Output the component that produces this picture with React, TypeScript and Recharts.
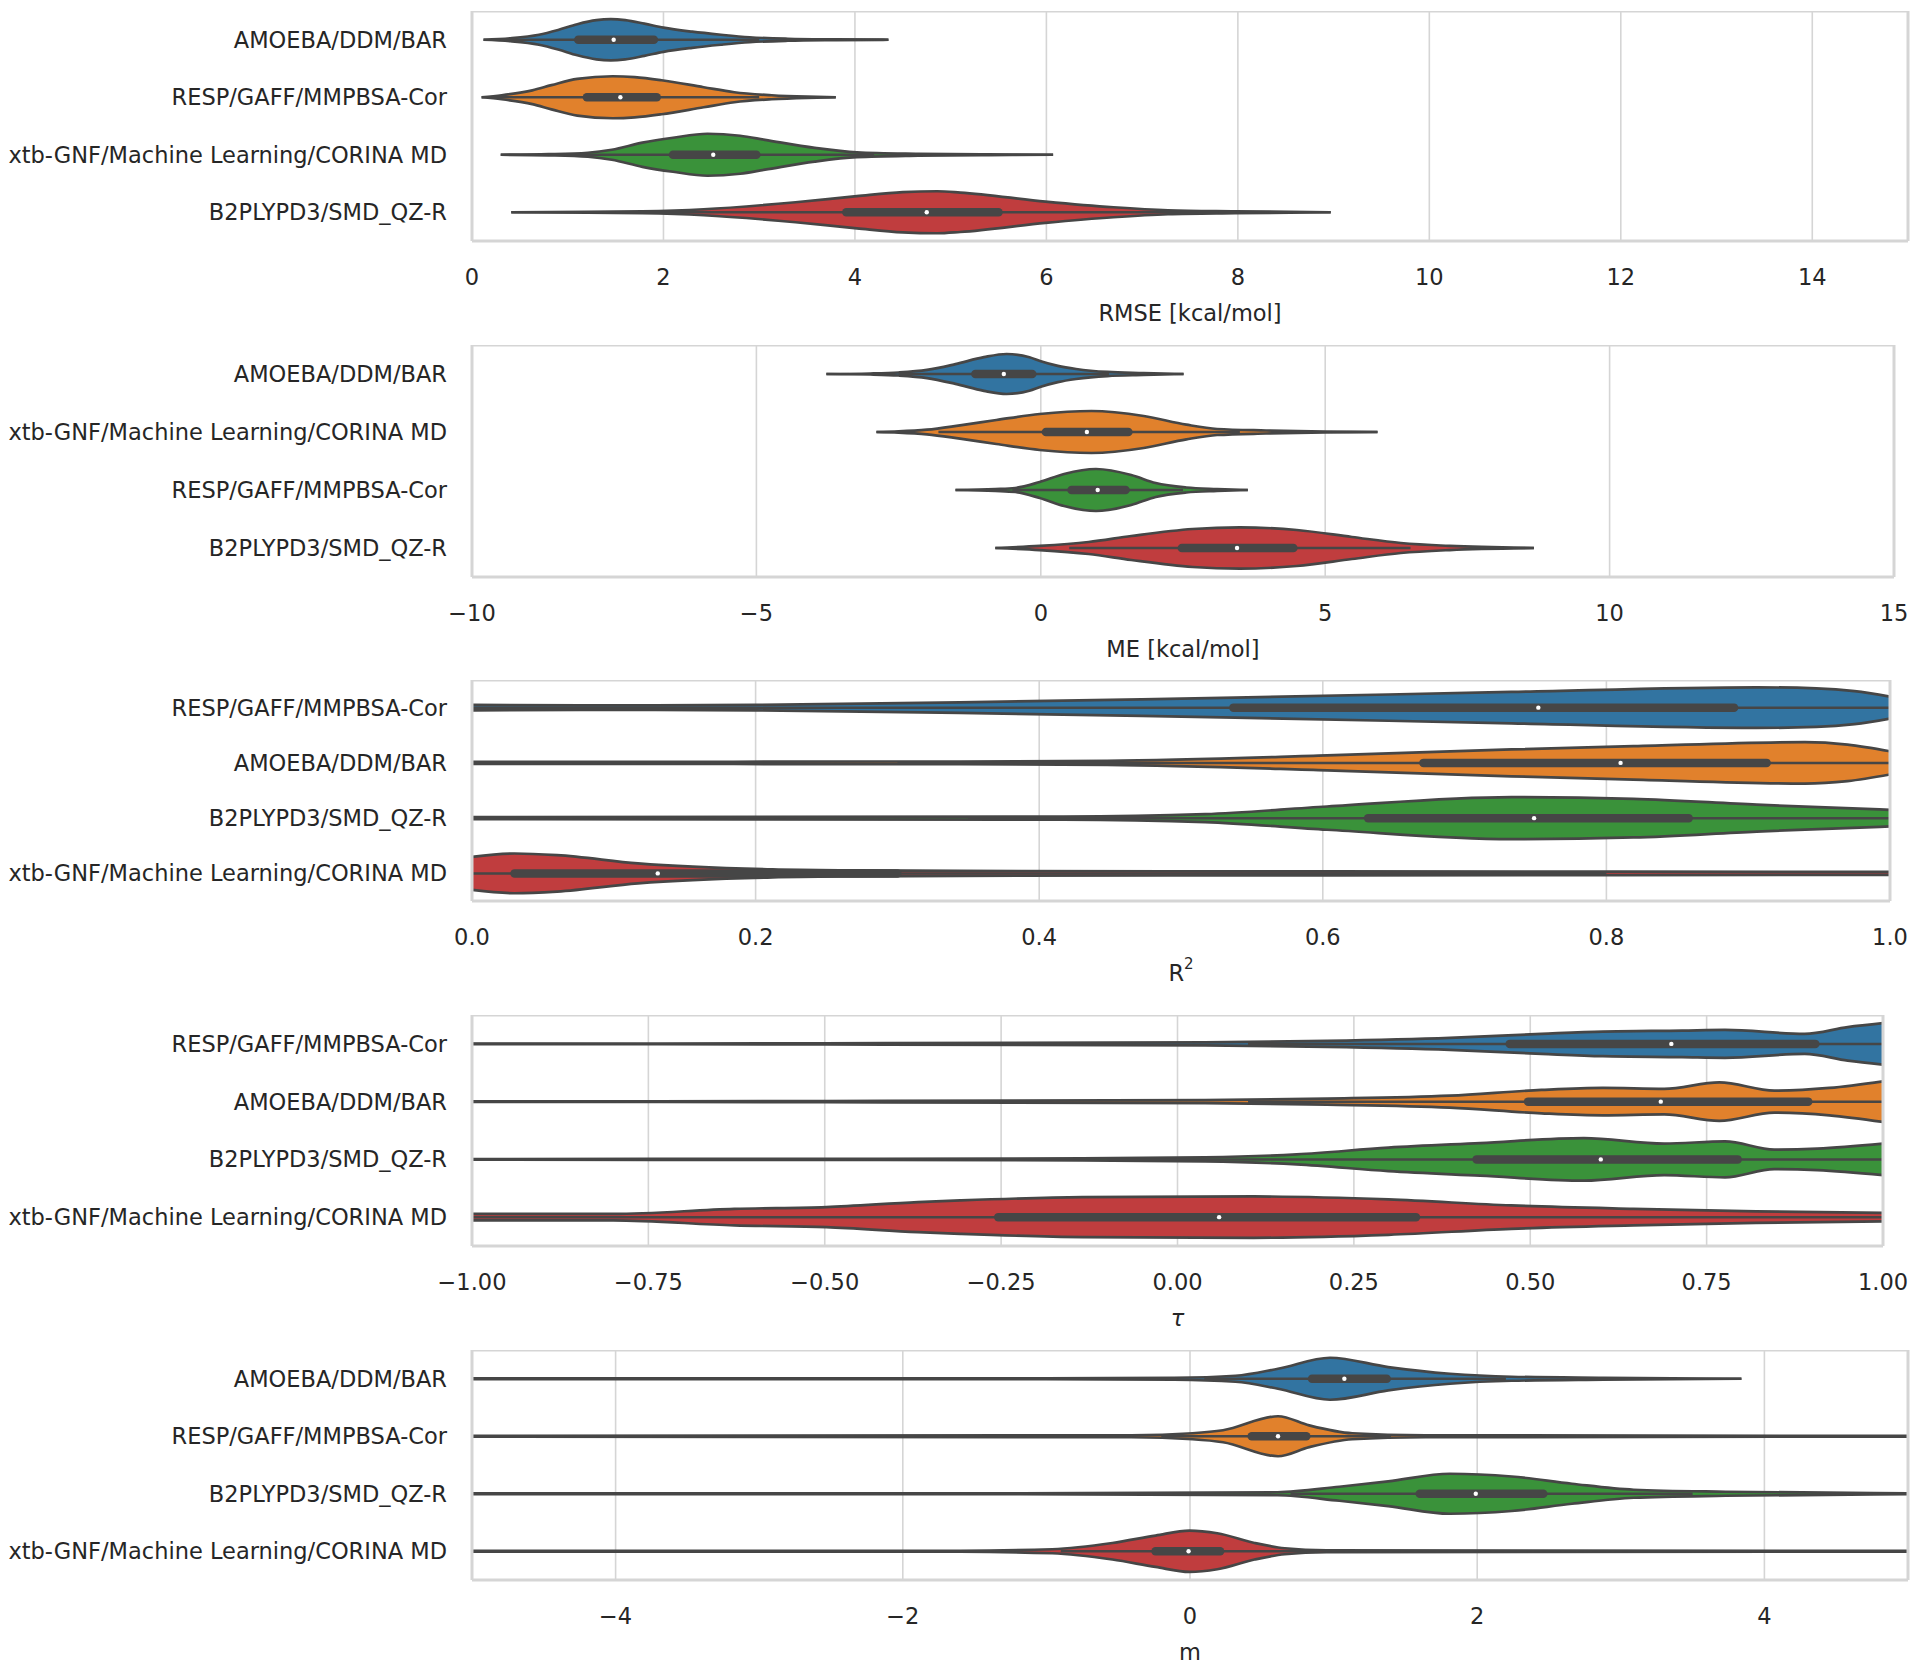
import React from 'react';
import {
  ComposedChart,
  Area,
  XAxis,
  YAxis,
  CartesianGrid,
  ReferenceLine,
  ReferenceDot,
} from 'recharts';

const AMOEBA = 'AMOEBA/DDM/BAR';
const RESP = 'RESP/GAFF/MMPBSA-Cor';
const XTB = 'xtb-GNF/Machine Learning/CORINA MD';
const B2P = 'B2PLYPD3/SMD_QZ-R';

// seaborn default palette, desaturated the way violinplot does it
const COLORS = ['#3274a1', '#e1812c', '#3a923a', '#c03d3e'];
const EDGE = '#464646';
const GRID = '#d5d5d5';
const TEXT = '#262626';
const FONT = '"DejaVu Sans", sans-serif';

// each violin: [value, half width in category units]
// each box: [whisker low, q1, median, q3, whisker high]

// ---- RMSE ----
const rmseOrder = [AMOEBA, RESP, XTB, B2P];
const rmseTicks = [0, 2, 4, 6, 8, 10, 12, 14];
const rmseAmoeba = [[0.12, 0], [0.4, 0.026], [0.7, 0.087], [0.9, 0.17], [1.1, 0.27], [1.3, 0.34], [1.45, 0.357], [1.6, 0.34], [1.8, 0.28], [2.0, 0.21], [2.3, 0.14], [2.6, 0.087], [2.9, 0.043], [3.3, 0.017], [3.8, 0.006], [4.35, 0]];
const rmseResp = [[0.1, 0], [0.31, 0.035], [0.63, 0.12], [0.83, 0.21], [1.1, 0.32], [1.47, 0.365], [1.7, 0.35], [1.98, 0.296], [2.42, 0.174], [2.74, 0.087], [3.13, 0.035], [3.5, 0.01], [3.8, 0]];
const rmseXtb = [[0.3, 0], [0.8, 0.01], [1.21, 0.035], [1.46, 0.087], [1.78, 0.21], [2.1, 0.296], [2.46, 0.365], [2.8, 0.33], [3.06, 0.26], [3.58, 0.12], [4.02, 0.043], [4.66, 0.017], [5.4, 0.005], [6.07, 0]];
const rmseB2p = [[0.41, 0], [1.2, 0.008], [1.78, 0.017], [2.42, 0.052], [3.38, 0.174], [4.02, 0.28], [4.5, 0.35], [4.86, 0.365], [5.1, 0.343], [5.99, 0.186], [6.7, 0.087], [7.27, 0.035], [7.97, 0.017], [8.97, 0]];
const rmseBoxes = [[0.3, 1.11, 1.48, 1.9, 3.0], [0.2, 1.2, 1.55, 1.93, 3.0], [0.9, 2.1, 2.52, 2.97, 4.2], [1.5, 3.91, 4.75, 5.5, 7.8]];

// ---- ME ----
const meOrder = [AMOEBA, XTB, RESP, B2P];
const meTicks = [-10, -5, 0, 5, 10, 15];
const meAmoeba = [[-3.77, 0], [-3.0, 0.009], [-2.5, 0.026], [-2.0, 0.07], [-1.5, 0.17], [-1.0, 0.29], [-0.6, 0.345], [-0.2, 0.29], [0.0, 0.22], [0.3, 0.14], [0.62, 0.086], [1.17, 0.035], [1.81, 0.017], [2.51, 0]];
const meXtb = [[-2.89, 0], [-2.5, 0.01], [-2.0, 0.04], [-1.42, 0.115], [-0.78, 0.207], [-0.02, 0.31], [0.89, 0.362], [1.81, 0.276], [2.56, 0.126], [3.1, 0.052], [3.96, 0.026], [5.0, 0.008], [5.92, 0]];
const meResp = [[-1.5, 0], [-0.8, 0.017], [-0.45, 0.035], [-0.02, 0.138], [0.41, 0.276], [0.97, 0.362], [1.59, 0.259], [2.02, 0.12], [2.56, 0.043], [3.1, 0.017], [3.64, 0]];
const meB2p = [[-0.8, 0], [-0.02, 0.035], [0.84, 0.103], [1.59, 0.207], [2.67, 0.328], [3.5, 0.357], [4.5, 0.31], [5.47, 0.19], [6.33, 0.086], [7.19, 0.035], [8.67, 0]];
const meBoxes = [[-2.5, -1.15, -0.65, -0.15, 1.2], [-1.8, 0.09, 0.81, 1.54, 3.5], [-0.5, 0.54, 1.0, 1.49, 2.5], [0.5, 2.48, 3.45, 4.44, 6.5]];

// ---- R^2 ----
const r2Order = [RESP, AMOEBA, B2P, XTB];
const r2Ticks = [0, 0.2, 0.4, 0.6, 0.8, 1.0];
const r2Resp = [[0, 0.05], [0.1, 0.04], [0.2, 0.05], [0.344, 0.096], [0.45, 0.14], [0.538, 0.18], [0.733, 0.284], [0.906, 0.367], [0.948, 0.35], [0.975, 0.3], [1.0, 0.2]];
const r2Amoeba = [[0, 0.018], [0.344, 0.025], [0.448, 0.036], [0.603, 0.134], [0.733, 0.243], [0.819, 0.302], [0.94, 0.375], [0.97, 0.33], [1.0, 0.21]];
const r2B2p = [[0, 0.018], [0.417, 0.027], [0.517, 0.072], [0.603, 0.21], [0.733, 0.38], [0.819, 0.35], [0.906, 0.243], [1.0, 0.15]];
const r2Xtb = [[0, 0.3], [0.03, 0.36], [0.06, 0.33], [0.117, 0.18], [0.212, 0.072], [0.272, 0.054], [0.344, 0.045], [0.603, 0.036], [1.0, 0.027]];
const r2Boxes = [[0.0, 0.537, 0.752, 0.89, 1.0], [0.3, 0.671, 0.81, 0.913, 1.0], [0.35, 0.632, 0.749, 0.858, 1.0], [0.0, 0.03, 0.131, 0.3, 0.8]];

// ---- tau ----
const tauOrder = [RESP, AMOEBA, B2P, XTB];
const tauTicks = [-1, -0.75, -0.5, -0.25, 0, 0.25, 0.5, 0.75, 1];
const tauResp = [[-1, 0.005], [-0.5, 0.01], [0.039, 0.026], [0.212, 0.052], [0.386, 0.104], [0.516, 0.173], [0.603, 0.213], [0.715, 0.23], [0.776, 0.242], [0.889, 0.173], [0.95, 0.29], [1.0, 0.358]];
const tauAmoeba = [[-1, 0.005], [-0.5, 0.01], [0.039, 0.026], [0.212, 0.052], [0.386, 0.104], [0.516, 0.203], [0.603, 0.237], [0.69, 0.22], [0.768, 0.334], [0.846, 0.19], [0.924, 0.237], [1.0, 0.352]];
const tauB2p = [[-1, 0.005], [-0.5, 0.01], [-0.135, 0.017], [0.039, 0.035], [0.169, 0.087], [0.299, 0.203], [0.429, 0.282], [0.576, 0.369], [0.69, 0.272], [0.776, 0.312], [0.846, 0.168], [0.907, 0.185], [1.0, 0.272]];
const tauXtb = [[-1, 0.055], [-0.8, 0.055], [-0.628, 0.144], [-0.498, 0.173], [-0.368, 0.26], [-0.308, 0.289], [-0.135, 0.346], [0.108, 0.358], [0.299, 0.306], [0.473, 0.203], [0.646, 0.144], [0.82, 0.099], [1.0, 0.075]];
const tauBoxes = [[0.1, 0.471, 0.7, 0.904, 1.0], [0.1, 0.497, 0.685, 0.894, 1.0], [-0.1, 0.424, 0.6, 0.794, 1.0], [-1.0, -0.254, 0.059, 0.338, 1.0]];

// ---- m ----
const mOrder = [AMOEBA, RESP, B2P, XTB];
const mTicks = [-4, -2, 0, 2, 4];
const mAmoeba = [[-5, 0.005], [-1, 0.009], [-0.11, 0.017], [0.317, 0.052], [0.613, 0.174], [0.975, 0.365], [1.38, 0.203], [1.81, 0.087], [2.24, 0.035], [2.88, 0.017], [3.84, 0]];
const mResp = [[-5, 0.005], [-0.41, 0.017], [0.018, 0.052], [0.23, 0.104], [0.613, 0.348], [0.83, 0.19], [1.13, 0.052], [1.64, 0.017], [5, 0.005]];
const mB2p = [[-5, 0.005], [-1.18, 0.009], [0.61, 0.026], [1.04, 0.122], [1.38, 0.214], [1.81, 0.348], [2.24, 0.3], [2.66, 0.174], [3.09, 0.07], [3.73, 0.035], [5, 0.009]];
const mXtb = [[-5, 0.005], [-1.6, 0.009], [-0.96, 0.035], [-0.54, 0.144], [-0.24, 0.273], [-0.003, 0.36], [0.19, 0.313], [0.45, 0.144], [0.66, 0.052], [0.95, 0.017], [5, 0.005]];
const mBoxes = [[0.1, 0.85, 1.075, 1.37, 2.2], [-0.2, 0.43, 0.613, 0.81, 1.4], [0.7, 1.6, 1.99, 2.46, 3.5], [-0.9, -0.24, -0.01, 0.21, 0.9]];

const minus = (s: string) => s.replace('-', '\u2212');

const PANELS = [
  { top: 11, plotHeight: 230, right: 1908, domain: [0, 15], ticks: rmseTicks, fmt: (v: number) => String(v), order: rmseOrder, violins: [rmseAmoeba, rmseResp, rmseXtb, rmseB2p], boxes: rmseBoxes, label: 'RMSE [kcal/mol]' },
  { top: 345, plotHeight: 232, right: 1894, domain: [-10, 15], ticks: meTicks, fmt: (v: number) => minus(String(v)), order: meOrder, violins: [meAmoeba, meXtb, meResp, meB2p], boxes: meBoxes, label: 'ME [kcal/mol]' },
  { top: 680, plotHeight: 221, right: 1890, domain: [0, 1], ticks: r2Ticks, fmt: (v: number) => v.toFixed(1), order: r2Order, violins: [r2Resp, r2Amoeba, r2B2p, r2Xtb], boxes: r2Boxes, label: 'R2' },
  { top: 1015, plotHeight: 231, right: 1883, domain: [-1, 1], ticks: tauTicks, fmt: (v: number) => minus(v.toFixed(2)), order: tauOrder, violins: [tauResp, tauAmoeba, tauB2p, tauXtb], boxes: tauBoxes, label: 'tau' },
  { top: 1350, plotHeight: 230, right: 1908, domain: [-5, 5], ticks: mTicks, fmt: (v: number) => minus(String(v)), order: mOrder, violins: [mAmoeba, mResp, mB2p, mXtb], boxes: mBoxes, label: 'm' },
];

function AxisTitle({ text, x, y }: { text: string; x: number; y: number }) {
  const common = { x, y, textAnchor: 'middle' as const, dominantBaseline: 'central' as const, fill: TEXT, fontSize: 22.5, fontFamily: FONT };
  if (text === 'R2') {
    return (
      <text {...common}>
        <tspan>R</tspan>
        <tspan dy={-9} fontSize={15}>2</tspan>
      </text>
    );
  }
  if (text === 'tau') {
    return <text {...common} fontStyle="italic">τ</text>;
  }
  return <text {...common}>{text}</text>;
}

function ViolinPanel({ top, plotHeight, right, domain, ticks, fmt, order, violins, boxes, label }: any) {
  const chartH = plotHeight + 95;
  return (
    <div style={{ position: 'absolute', left: 0, top, width: 1920, height: chartH }}>
      <ComposedChart width={1920} height={chartH} margin={{ top: 0, right: 1920 - right, bottom: 0, left: 0 }}>
        <CartesianGrid horizontal={false} stroke={GRID} strokeWidth={1.6} />
        <XAxis
          type="number"
          dataKey="x"
          domain={domain}
          ticks={ticks}
          interval={0}
          allowDataOverflow
          axisLine={false}
          tickLine={false}
          tickSize={0}
          tickMargin={36}
          height={95}
          tick={(p: any) => (
            <text x={p.x} y={p.y} textAnchor="middle" dominantBaseline="central" fill={TEXT} fontSize={22.5} fontFamily={FONT}>
              {fmt(p.payload.value)}
            </text>
          )}
          label={{
            content: (p: any) => {
              const vb = p.viewBox || { x: 472, y: plotHeight, width: right - 472 };
              return <AxisTitle text={label} x={vb.x + vb.width / 2} y={vb.y + 72} />;
            },
          }}
        />
        <YAxis
          type="number"
          domain={[-0.5, 3.5]}
          reversed
          ticks={[0, 1, 2, 3]}
          interval={0}
          allowDataOverflow
          width={472}
          axisLine={false}
          tickLine={false}
          tickSize={0}
          tickMargin={25}
          tick={(p: any) => (
            <text x={p.x} y={p.y} textAnchor="end" dominantBaseline="central" fill={TEXT} fontSize={22.5} fontFamily={FONT}>
              {order[p.payload.value]}
            </text>
          )}
        />
        {violins.map((v: number[][], i: number) => (
          <Area
            key={'v' + i}
            data={v.map(([x, w]) => ({ x, band: [i - w, i + w] }))}
            dataKey="band"
            type="monotone"
            fill={COLORS[i]}
            fillOpacity={1}
            stroke={EDGE}
            strokeWidth={2.7}
            dot={false}
            activeDot={false}
            isAnimationActive={false}
          />
        ))}
        {boxes.map((b: number[], i: number) => (
          <ReferenceLine key={'w' + i} segment={[{ x: b[0], y: i }, { x: b[4], y: i }]} stroke={EDGE} strokeWidth={2.5} />
        ))}
        {boxes.map((b: number[], i: number) => (
          <ReferenceLine key={'b' + i} segment={[{ x: b[1], y: i }, { x: b[3], y: i }]} stroke={EDGE} strokeWidth={8.5} strokeLinecap="round" />
        ))}
        {boxes.map((b: number[], i: number) => (
          <ReferenceDot key={'m' + i} x={b[2]} y={i} r={2.2} fill="#ffffff" stroke="none" />
        ))}
        <ReferenceLine x={domain[0]} stroke={GRID} strokeWidth={3} />
        <ReferenceLine x={domain[1]} stroke={GRID} strokeWidth={3} />
        <ReferenceLine y={-0.5} stroke={GRID} strokeWidth={3} />
        <ReferenceLine y={3.5} stroke={GRID} strokeWidth={3} />
      </ComposedChart>
    </div>
  );
}

export default function App() {
  return (
    <div style={{ position: 'absolute', left: 0, top: 0, width: 1920, height: 1670, background: '#ffffff' }}>
      {PANELS.map((p, k) => (
        <ViolinPanel key={k} {...p} />
      ))}
    </div>
  );
}
